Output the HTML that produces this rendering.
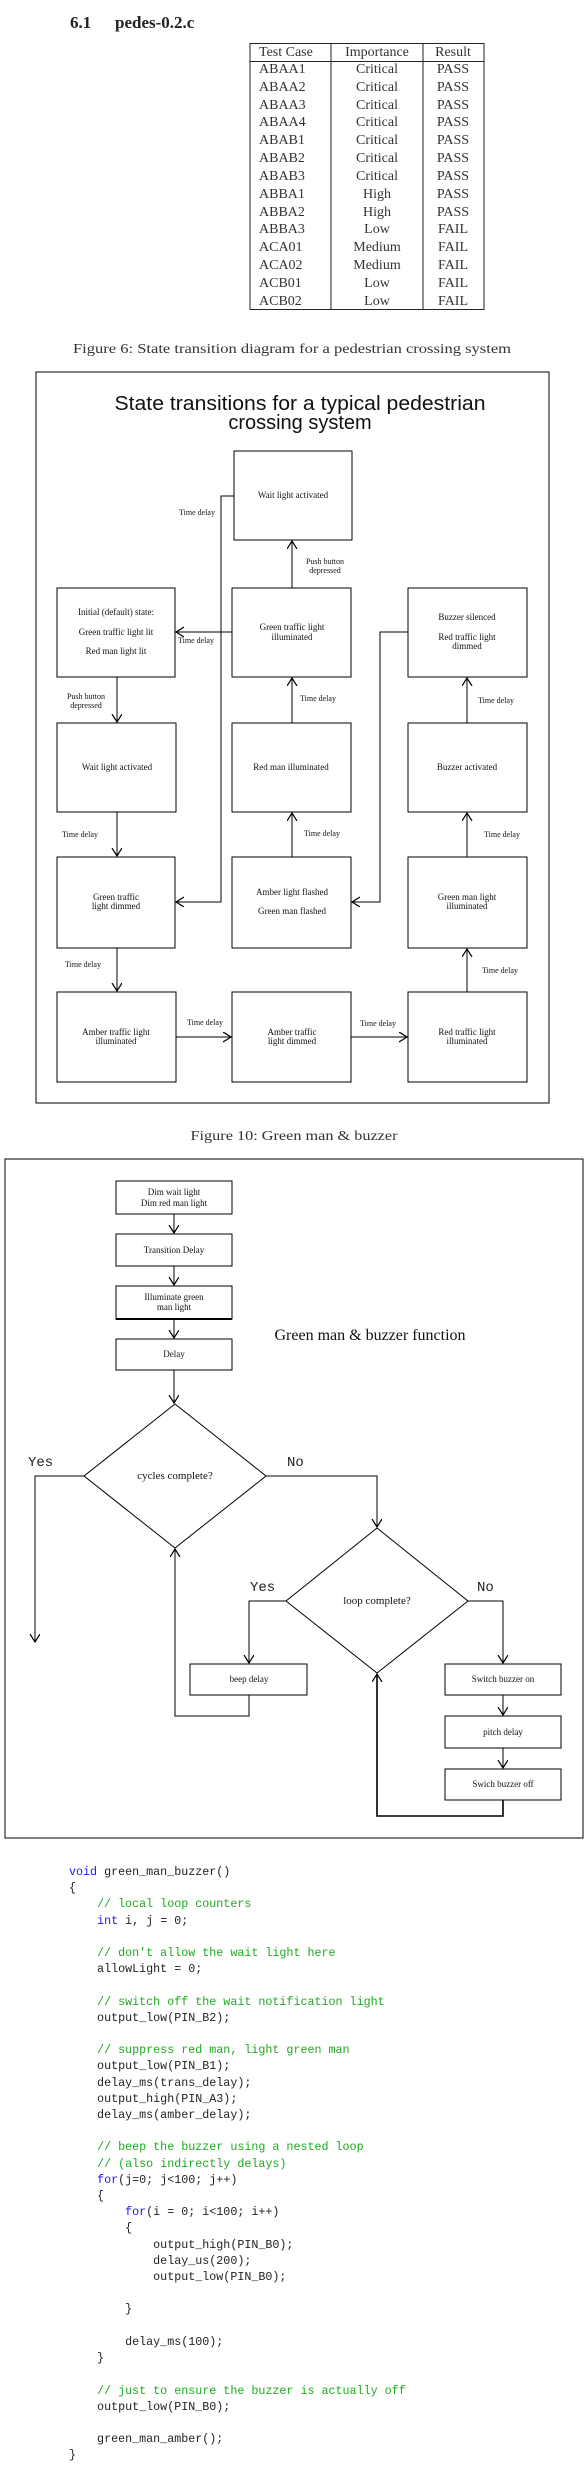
<!DOCTYPE html>
<html><head><meta charset="utf-8"><style>
html,body{margin:0;padding:0;background:#fff;}
body{width:585px;height:2488px;position:relative;overflow:hidden;}
svg{position:absolute;left:0;top:0;}
pre{position:absolute;left:69px;top:1864px;margin:0;font-family:"Liberation Mono",monospace;font-size:11.7px;line-height:16.2px;color:#222;}
.k{color:#1a1aee}.c{color:#1faa1f}
</style></head><body>
<svg width="585" height="2488" viewBox="0 0 585 2488" xmlns="http://www.w3.org/2000/svg">
<defs>
<marker id="a" markerUnits="userSpaceOnUse" markerWidth="12" markerHeight="12" refX="8" refY="5" orient="auto">
<path d="M0,0 L8,5 L0,10" fill="none" stroke="#000" stroke-width="1.2"/>
</marker>
</defs>
<g font-family="Liberation Serif, serif" fill="#222">
<text x="70" y="28" font-size="17" font-weight="bold">6.1</text>
<text x="115" y="28" font-size="17" font-weight="bold">pedes-0.2.c</text>
</g>
<!-- table -->
<g stroke="#222" stroke-width="1" fill="none">
<rect x="250" y="43.5" width="234" height="266"/>
<line x1="250" y1="61.5" x2="484" y2="61.5"/>
<line x1="331" y1="43.5" x2="331" y2="309.5"/>
<line x1="423" y1="43.5" x2="423" y2="309.5"/>
</g>
<g font-family="Liberation Serif, serif" font-size="14" fill="#333">
<text x="259" y="56">Test Case</text><text x="377" y="56" text-anchor="middle">Importance</text><text x="453" y="56" text-anchor="middle">Result</text>
<g id="rows">
<text x="259" y="73">ABAA1</text><text x="377" y="73" text-anchor="middle">Critical</text><text x="453" y="73" text-anchor="middle">PASS</text>
<text x="259" y="91">ABAA2</text><text x="377" y="91" text-anchor="middle">Critical</text><text x="453" y="91" text-anchor="middle">PASS</text>
<text x="259" y="109">ABAA3</text><text x="377" y="109" text-anchor="middle">Critical</text><text x="453" y="109" text-anchor="middle">PASS</text>
<text x="259" y="126">ABAA4</text><text x="377" y="126" text-anchor="middle">Critical</text><text x="453" y="126" text-anchor="middle">PASS</text>
<text x="259" y="144">ABAB1</text><text x="377" y="144" text-anchor="middle">Critical</text><text x="453" y="144" text-anchor="middle">PASS</text>
<text x="259" y="162">ABAB2</text><text x="377" y="162" text-anchor="middle">Critical</text><text x="453" y="162" text-anchor="middle">PASS</text>
<text x="259" y="180">ABAB3</text><text x="377" y="180" text-anchor="middle">Critical</text><text x="453" y="180" text-anchor="middle">PASS</text>
<text x="259" y="198">ABBA1</text><text x="377" y="198" text-anchor="middle">High</text><text x="453" y="198" text-anchor="middle">PASS</text>
<text x="259" y="216">ABBA2</text><text x="377" y="216" text-anchor="middle">High</text><text x="453" y="216" text-anchor="middle">PASS</text>
<text x="259" y="233">ABBA3</text><text x="377" y="233" text-anchor="middle">Low</text><text x="453" y="233" text-anchor="middle">FAIL</text>
<text x="259" y="251">ACA01</text><text x="377" y="251" text-anchor="middle">Medium</text><text x="453" y="251" text-anchor="middle">FAIL</text>
<text x="259" y="269">ACA02</text><text x="377" y="269" text-anchor="middle">Medium</text><text x="453" y="269" text-anchor="middle">FAIL</text>
<text x="259" y="287">ACB01</text><text x="377" y="287" text-anchor="middle">Low</text><text x="453" y="287" text-anchor="middle">FAIL</text>
<text x="259" y="305">ACB02</text><text x="377" y="305" text-anchor="middle">Low</text><text x="453" y="305" text-anchor="middle">FAIL</text>
</g>
<text x="73" y="353" font-size="14" textLength="438" lengthAdjust="spacingAndGlyphs">Figure 6: State transition diagram for a pedestrian crossing system</text>
</g>

<!-- Diagram 1 -->
<g stroke="#000" stroke-width="1" fill="none">
<rect x="36" y="372" width="513" height="731"/>
<rect x="234" y="451" width="118" height="89"/>
<rect x="57" y="588" width="118" height="89"/>
<rect x="232" y="588" width="119" height="89"/>
<rect x="408" y="588" width="119" height="89"/>
<rect x="57" y="723" width="119" height="89"/>
<rect x="232" y="723" width="119" height="89"/>
<rect x="408" y="723" width="119" height="89"/>
<rect x="57" y="857" width="118" height="91"/>
<rect x="232" y="857" width="119" height="91"/>
<rect x="408" y="857" width="119" height="91"/>
<rect x="57" y="992" width="119" height="90"/>
<rect x="232" y="992" width="119" height="90"/>
<rect x="408" y="992" width="119" height="90"/>
</g>
<g stroke="#000" stroke-width="1" fill="none" marker-end="url(#a)">
<path d="M292,588 V541"/>
<path d="M234,496 H221 V902 H176"/>
<path d="M232,632 H176"/>
<path d="M117,677 V722"/>
<path d="M292,723 V678"/>
<path d="M408,632 H380 V902 H352"/>
<path d="M467,723 V678"/>
<path d="M117,812 V856"/>
<path d="M292,857 V813"/>
<path d="M467,857 V813"/>
<path d="M117,948 V991"/>
<path d="M467,992 V949"/>
<path d="M176,1037 H231"/>
<path d="M351,1037 H407"/>
</g>
<g font-family="Liberation Sans, sans-serif" font-size="20" fill="#111" text-anchor="middle">
<text x="300" y="410" textLength="371" lengthAdjust="spacingAndGlyphs">State transitions for a typical pedestrian</text>
<text x="300" y="429">crossing system</text>
</g>
<g font-family="Liberation Serif, serif" font-size="9" fill="#111" text-anchor="middle">
<text x="293" y="498">Wait light activated</text>
<text x="116" y="615">Initial (default) state:</text>
<text x="116" y="635">Green traffic light lit</text>
<text x="116" y="654">Red man light lit</text>
<text x="292" y="630">Green traffic light</text>
<text x="292" y="640">illuminated</text>
<text x="467" y="620">Buzzer silenced</text>
<text x="467" y="640">Red traffic light</text>
<text x="467" y="649">dimmed</text>
<text x="117" y="770">Wait light activated</text>
<text x="291" y="770">Red man illuminated</text>
<text x="467" y="770">Buzzer activated</text>
<text x="116" y="900">Green traffic</text>
<text x="116" y="909">light dimmed</text>
<text x="292" y="895">Amber light flashed</text>
<text x="292" y="914">Green man flashed</text>
<text x="467" y="900">Green man light</text>
<text x="467" y="909">illuminated</text>
<text x="116" y="1035">Amber traffic light</text>
<text x="116" y="1044">illuminated</text>
<text x="292" y="1035">Amber traffic</text>
<text x="292" y="1044">light dimmed</text>
<text x="467" y="1035">Red traffic light</text>
<text x="467" y="1044">illuminated</text>
<g font-size="8">
<text x="197" y="515">Time delay</text>
<text x="325" y="564">Push button</text>
<text x="325" y="573">depressed</text>
<text x="196" y="643">Time delay</text>
<text x="86" y="699">Push button</text>
<text x="86" y="708">depressed</text>
<text x="318" y="701">Time delay</text>
<text x="496" y="703">Time delay</text>
<text x="80" y="837">Time delay</text>
<text x="322" y="836">Time delay</text>
<text x="502" y="837">Time delay</text>
<text x="83" y="967">Time delay</text>
<text x="500" y="973">Time delay</text>
<text x="205" y="1025">Time delay</text>
<text x="378" y="1026">Time delay</text>
</g>
</g>
<text x="294" y="1140" font-family="Liberation Serif, serif" font-size="14" fill="#333" text-anchor="middle" textLength="207" lengthAdjust="spacingAndGlyphs">Figure 10: Green man &amp; buzzer</text>

<!-- Diagram 2 -->
<g stroke="#000" stroke-width="1" fill="none">
<rect x="5" y="1159" width="578" height="679"/>
<rect x="116" y="1181" width="116" height="33"/>
<rect x="116" y="1234" width="116" height="32"/>
<rect x="116" y="1286" width="116" height="33"/>
<line x1="116" y1="1319" x2="232" y2="1319" stroke-width="2"/>
<rect x="116" y="1339" width="116" height="31"/>
<polygon points="175,1404 266,1476 175,1548 84,1476"/>
<polygon points="377,1528 468,1601 377,1673 286,1601"/>
<rect x="190" y="1664" width="117" height="31"/>
<rect x="445" y="1664" width="116" height="31"/>
<rect x="445" y="1716" width="116" height="32"/>
<rect x="445" y="1769" width="116" height="31"/>
</g>
<g stroke="#000" stroke-width="1" fill="none" marker-end="url(#a)">
<path d="M174,1214 V1233"/>
<path d="M174,1266 V1285"/>
<path d="M174,1319 V1338"/>
<path d="M174,1370 V1403"/>
<path d="M84,1476 H35 V1642"/>
<path d="M266,1476 H377 V1527"/>
<path d="M286,1601 H249 V1663"/>
<path d="M249,1695 V1716 H175 V1549"/>
<path d="M468,1601 H503 V1663"/>
<path d="M503,1695 V1715"/>
<path d="M503,1748 V1768"/>
<path d="M503,1800 V1816 H377 V1674" stroke-width="1.6"/>
</g>
<g font-family="Liberation Serif, serif" font-size="9" fill="#111" text-anchor="middle">
<text x="174" y="1195">Dim wait light</text>
<text x="174" y="1206">Dim red man light</text>
<text x="174" y="1253">Transition Delay</text>
<text x="174" y="1300">Illuminate green</text>
<text x="174" y="1310">man  light</text>
<text x="174" y="1357">Delay</text>
<text x="249" y="1682">beep delay</text>
<text x="503" y="1682">Switch buzzer on</text>
<text x="503" y="1735">pitch delay</text>
<text x="503" y="1787">Swich buzzer off</text>
<text x="175" y="1479" font-size="11">cycles complete?</text>
<text x="377" y="1604" font-size="11">loop complete?</text>
<text x="370" y="1340" font-size="16">Green man &amp; buzzer function</text>
</g>
<g font-family="Liberation Mono, monospace" font-size="14" fill="#222">
<text x="28" y="1466">Yes</text>
<text x="287" y="1466">No</text>
<text x="250" y="1591">Yes</text>
<text x="477" y="1591">No</text>
</g>
</svg>
<pre><span class="k">void</span> green_man_buzzer()
{
    <span class="c">// local loop counters</span>
    <span class="k">int</span> i, j = 0;

    <span class="c">// don't allow the wait light here</span>
    allowLight = 0;

    <span class="c">// switch off the wait notification light</span>
    output_low(PIN_B2);

    <span class="c">// suppress red man, light green man</span>
    output_low(PIN_B1);
    delay_ms(trans_delay);
    output_high(PIN_A3);
    delay_ms(amber_delay);

    <span class="c">// beep the buzzer using a nested loop</span>
    <span class="c">// (also indirectly delays)</span>
    <span class="k">for</span>(j=0; j&lt;100; j++)
    {
        <span class="k">for</span>(i = 0; i&lt;100; i++)
        {
            output_high(PIN_B0);
            delay_us(200);
            output_low(PIN_B0);

        }

        delay_ms(100);
    }

    <span class="c">// just to ensure the buzzer is actually off</span>
    output_low(PIN_B0);

    green_man_amber();
}</pre>
</body></html>
